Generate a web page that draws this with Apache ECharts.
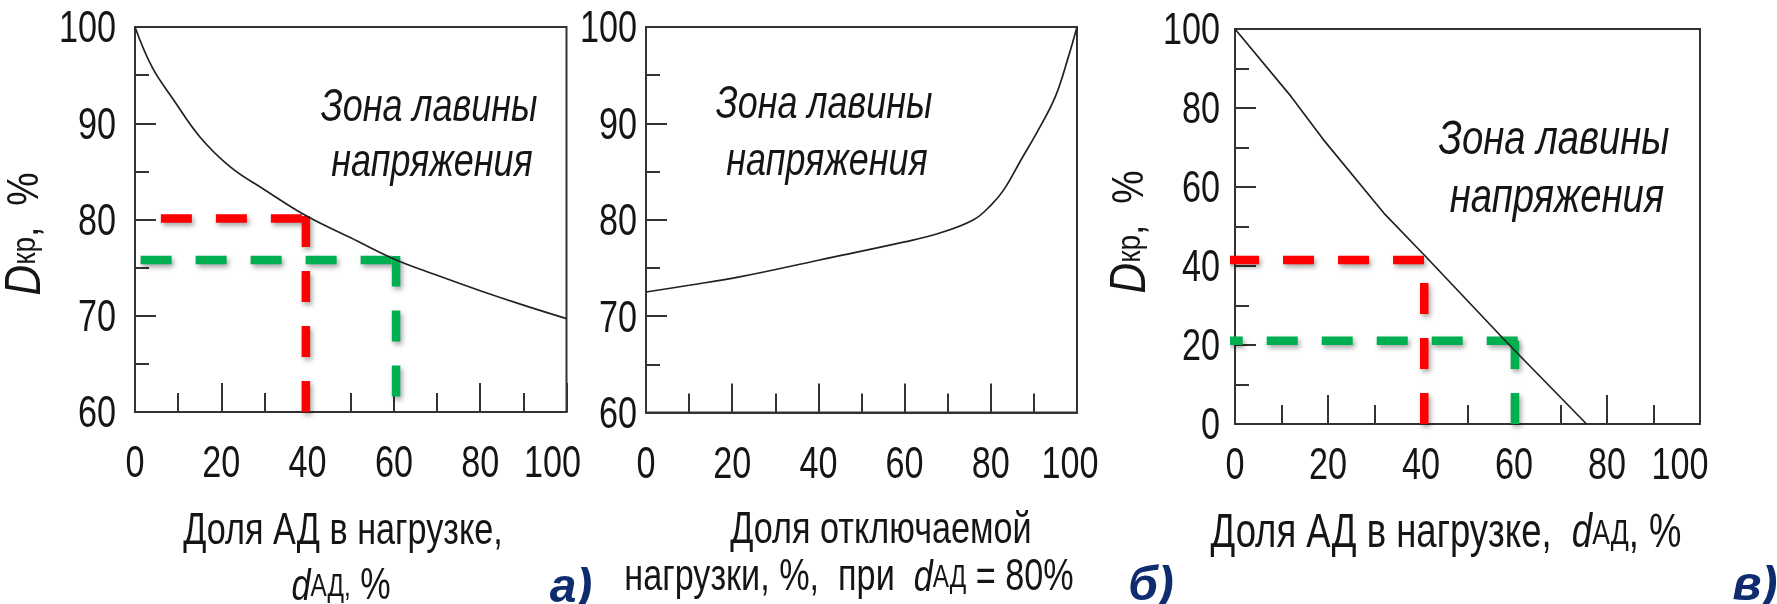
<!DOCTYPE html>
<html>
<head>
<meta charset="utf-8">
<script src="https://cdn.jsdelivr.net/npm/echarts@6/dist/echarts.min.js"></script>
<style>
  html, body { margin: 0; padding: 0; background: #ffffff; }
  #chart { width: 1777px; height: 604px; }
</style>
</head>
<body>
<div id="chart"></div>
<script>
// а) critical disconnection share vs induction-motor share of the load
const curveAx = [0, 4, 9, 15, 22, 30, 40, 50, 60, 70, 80, 90, 100];
const curveAy = [100, 95.8, 92.4, 88.6, 85.5, 83.1, 80.3, 78.1, 75.9, 74.2, 72.6, 71.1, 69.7];

// б) critical value vs share of disconnected load at d = 80 %
const curveBx = [0, 10, 22, 40, 60, 68, 76, 80, 83, 87, 91, 95, 98, 100];
const curveBy = [72.5, 73.2, 74.1, 75.8, 77.7, 78.6, 80.0, 81.5, 83.1, 86.2, 89.3, 92.8, 96.9, 100];

// в) critical value vs induction-motor share
const curveCx = [0, 12, 19, 32, 41, 59, 75.6];
const curveCy = [100, 83, 72, 53.4, 42.4, 20, 0];

// dashed guide lines: [x1, y1, x2, y2], dash pattern starts at the first point
const guidesA_red = [[6, 80.1, 40.5, 80.1], [39.6, 60, 39.6, 80.5]];
const guidesA_green = [[1.3, 75.8, 61.2, 75.8], [60.5, 61.6, 60.5, 76.2]];
const guidesC_red = [[-1.5, 41.5, 41.3, 41.5], [40.7, 0, 40.7, 41.5]];
const guidesC_green = [[60.8, 21.1, -1.5, 21.1], [60.2, 0, 60.2, 21.1]];

// axis ranges, steps and tick labels
const xRange = [0, 100, 20];
const yRangeAB = [60, 100, 10];
const yRangeC = [0, 100, 20];
const xTickLabels = [0, 20, 40, 60, 80, 100];
const yTickLabelsAB = [60, 70, 80, 90, 100];
const yTickLabelsC = [0, 20, 40, 60, 80, 100];

const FONT = "'Liberation Sans', Arial, sans-serif";
const NARROW = 0.76;           // horizontal squeeze giving a condensed face
const INK = '#151515';
const AXIS = '#333333';
const RED = '#ff0000';
const GREEN = '#00b050';
const NAVY = '#0f2d6e';

const chart = echarts.init(document.getElementById('chart'), null, { renderer: 'canvas' });

const grids = [
  { left: 135, top: 27, width: 431.5, height: 385 },
  { left: 646, top: 27, width: 431, height: 385.5 },
  { left: 1235, top: 29, width: 465, height: 395 }
].map(g => Object.assign({ show: true, borderColor: AXIS, borderWidth: 2, backgroundColor: 'transparent' }, g));

function xAxisFor(gridIndex) {
  return {
    type: 'value', gridIndex, min: xRange[0], max: xRange[1], interval: xRange[2],
    axisLine: { show: true, onZero: false, lineStyle: { color: AXIS, width: 2 } },
    axisTick: { show: true, inside: true, length: 29, lineStyle: { color: AXIS, width: 2 } },
    minorTick: { show: true, splitNumber: 2, length: 19, lineStyle: { color: AXIS, width: 2 } },
    splitLine: { show: false },
    axisLabel: { show: false }
  };
}

function yAxisFor(gridIndex, range) {
  return {
    type: 'value', gridIndex, min: range[0], max: range[1], interval: range[2],
    axisLine: { show: true, onZero: false, lineStyle: { color: AXIS, width: 2 } },
    axisTick: { show: true, inside: true, length: 21, lineStyle: { color: AXIS, width: 2 } },
    minorTick: { show: true, splitNumber: 2, length: 14, lineStyle: { color: AXIS, width: 2 } },
    splitLine: { show: false },
    axisLabel: { show: false }
  };
}

function curve(idx, xs, ys, smooth) {
  return {
    type: 'line', xAxisIndex: idx, yAxisIndex: idx, z: 4,
    data: xs.map((x, i) => [x, ys[i]]),
    smooth, showSymbol: false, symbol: 'none', silent: true,
    lineStyle: { color: '#222222', width: 1.7 }
  };
}

function guides(idx, segs, color) {
  return segs.map(s => ({
    type: 'line', xAxisIndex: idx, yAxisIndex: idx, z: 3, clip: false,
    data: [[s[0], s[1]], [s[2], s[3]]],
    showSymbol: false, symbol: 'none', silent: true,
    lineStyle: {
      color, width: 8.5, type: [31, 24], cap: 'butt',
      shadowColor: 'rgba(0,0,0,0.35)', shadowBlur: 5, shadowOffsetX: 2, shadowOffsetY: 3
    }
  }));
}

chart.setOption({
  animation: false,
  backgroundColor: '#ffffff',
  grid: grids,
  xAxis: [xAxisFor(0), xAxisFor(1), xAxisFor(2)],
  yAxis: [yAxisFor(0, yRangeAB), yAxisFor(1, yRangeAB), yAxisFor(2, yRangeC)],
  series: [
    ...guides(0, guidesA_red, RED),
    ...guides(0, guidesA_green, GREEN),
    ...guides(2, guidesC_red, RED),
    ...guides(2, guidesC_green, GREEN),
    curve(0, curveAx, curveAy, 0.4),
    curve(1, curveBx, curveBy, 0.4),
    curve(2, curveCx, curveCy, false)
  ]
});

// ---- text layer: condensed labels drawn as text elements ----
const capRich = (size) => ({
  d: { fontFamily: FONT, fontStyle: 'italic', fontSize: size, fill: INK },
  s: { fontFamily: FONT, fontSize: Math.round(size * 0.72), fill: INK }
});

function txt(x, y, text, size, extra) {
  extra = extra || {};
  return {
    type: 'text', x, y, silent: true,
    scaleX: extra.scaleX !== undefined ? extra.scaleX : NARROW,
    rotation: extra.rotation || 0,
    style: Object.assign({
      text, fill: INK, fontFamily: FONT, fontSize: size,
      align: 'center', verticalAlign: 'middle', rich: capRich(size)
    }, extra.style || {})
  };
}

const TICK_FONT = 45;
const graphic = [];

// tick labels placed through the axes' own scales
const xLabelSets = [
  { idx: 0, gap: 53, lastShift: -14 },
  { idx: 1, gap: 53, lastShift: -7 },
  { idx: 2, gap: 43, lastShift: -20 }
];
xLabelSets.forEach(set => {
  const g = grids[set.idx];
  const yPix = g.top + g.height + set.gap;
  xTickLabels.forEach(v => {
    const px = chart.convertToPixel({ xAxisIndex: set.idx }, v);
    graphic.push(txt(px + (v === 100 ? set.lastShift : 0), yPix, String(v), TICK_FONT));
  });
});

const yLabelSets = [
  { idx: 0, ticks: yTickLabelsAB, gap: 19 },
  { idx: 1, ticks: yTickLabelsAB, gap: 9 },
  { idx: 2, ticks: yTickLabelsC, gap: 15 }
];
yLabelSets.forEach(set => {
  const g = grids[set.idx];
  set.ticks.forEach(v => {
    const py = chart.convertToPixel({ yAxisIndex: set.idx }, v);
    graphic.push(txt(g.left - set.gap, py + 3, String(v), TICK_FONT, { style: { align: 'right' } }));
  });
});

const zone = { scaleX: 0.78, style: { fontStyle: 'italic' } };
const yNameRich = {
  D: { fontFamily: FONT, fontStyle: 'italic', fontSize: 50, fill: INK },
  k: { fontFamily: FONT, fontSize: 33, fill: INK },
  n: { fontFamily: FONT, fontSize: 44, fill: INK }
};
const tag = { scaleX: 1, style: { fontFamily: FONT, fontWeight: 'bold', fontStyle: 'italic', fill: NAVY } };

graphic.push(
  // zone captions
  txt(429, 108, 'Зона лавины', 46, zone),
  txt(432, 163, 'напряжения', 46, zone),
  txt(824, 105, 'Зона лавины', 46, zone),
  txt(827, 162, 'напряжения', 46, zone),
  txt(1554, 140, 'Зона лавины', 49, zone),
  txt(1557, 198, 'напряжения', 49, zone),
  // x-axis captions
  txt(343, 532, 'Доля АД в нагрузке,', 45),
  txt(341, 587, '{d|d}{s|АД,} %', 45),
  txt(881, 531, 'Доля отключаемой', 45),
  txt(849, 578, 'нагрузки, %,  при  {d|d}{s|АД} = 80%', 45),
  txt(1446, 534, 'Доля АД в нагрузке,  {d|d}{s|АД}, %', 48),
  // y-axis captions
  txt(26, 234, '{D|D}{k|кр}{n|,  %}', 44, { scaleX: 0.85, rotation: Math.PI / 2, style: { rich: yNameRich } }),
  txt(1131, 232, '{D|D}{k|кр}{n|,  %}', 44, { scaleX: 0.85, rotation: Math.PI / 2, style: { rich: yNameRich } }),
  // panel letters
  txt(571, 589, 'а)', 48, tag),
  txt(1151, 587, 'б)', 48, tag),
  txt(1755, 587, 'в)', 48, tag)
);

chart.setOption({ graphic });
</script>
</body>
</html>
